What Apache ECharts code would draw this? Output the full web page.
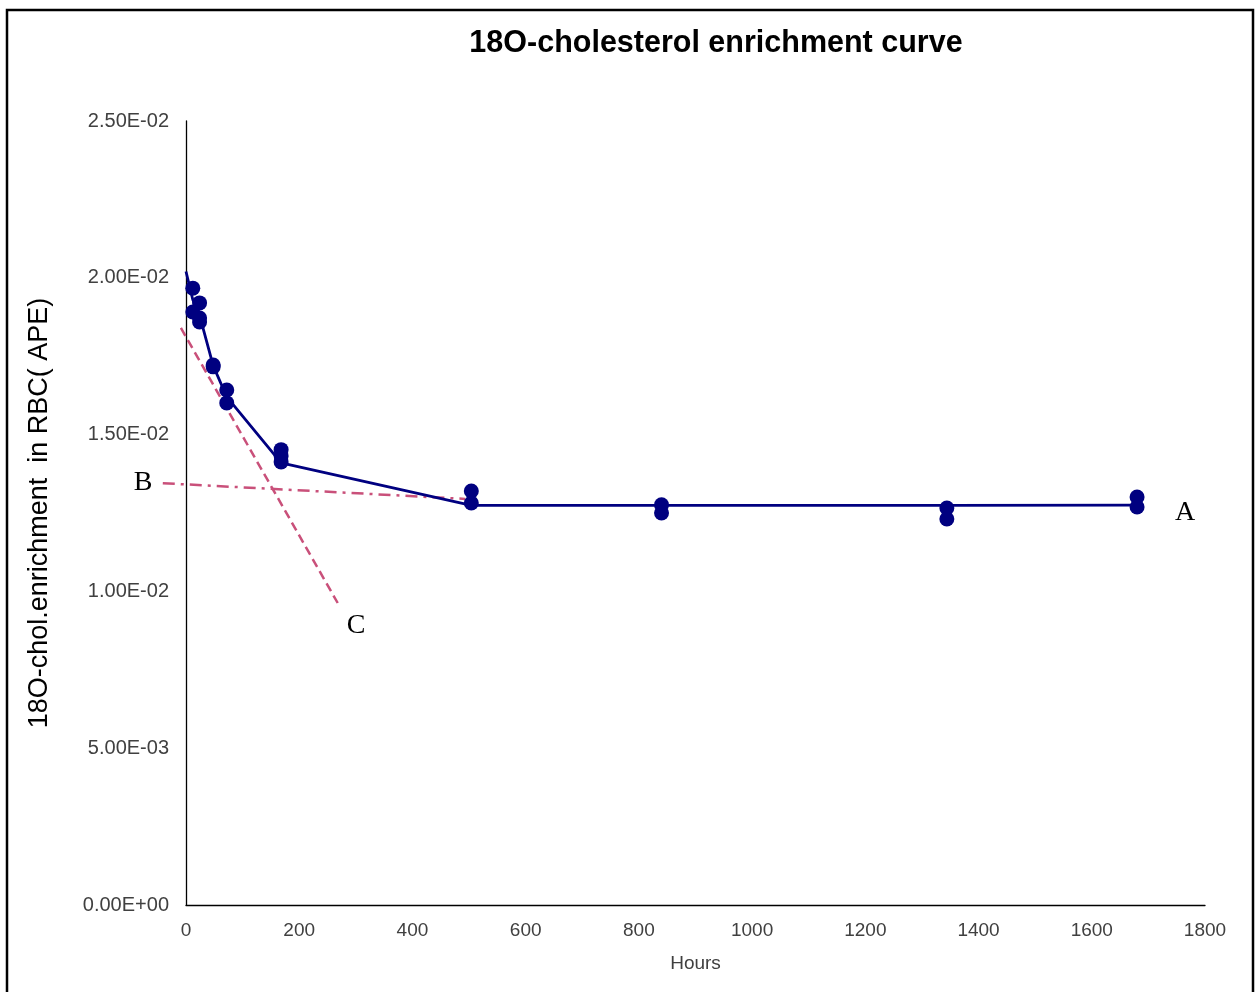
<!DOCTYPE html>
<html>
<head>
<meta charset="utf-8">
<script src="https://cdn.jsdelivr.net/npm/echarts@6/dist/echarts.min.js"></script>
<style>
  html, body { margin: 0; padding: 0; background: #fff; }
  #chart { width: 1259px; height: 992px; }
</style>
</head>
<body>
<div id="chart"></div>
<script>
// measured samples (hours, APE)
const sampleHours = [12, 12, 24, 24, 24, 48, 48, 72, 72, 168, 168, 168, 504, 504, 840, 840, 1344, 1344, 1680, 1680];
const sampleValues = [0.01967, 0.01891, 0.0192, 0.01872, 0.01859, 0.01722, 0.01716, 0.01642, 0.01601,
  0.01452, 0.01432, 0.01413, 0.0132, 0.01282, 0.01276, 0.0125, 0.01266, 0.01231, 0.01301, 0.01269];

// mean curve
const curveHours = [0, 12, 24, 48, 72, 168, 504, 840, 1344, 1680];
const curveValues = [0.0202, 0.0193, 0.0188, 0.0172, 0.0162, 0.0141, 0.01274, 0.01274, 0.01274, 0.01275];

// fitted phase lines
const lineBHours = [-41, 493];
const lineBValues = [0.01345, 0.01295];
const lineCHours = [-9, 268];
const lineCValues = [0.0184, 0.00963];

const xTicks = [0, 200, 400, 600, 800, 1000, 1200, 1400, 1600, 1800];

const pairs = (xs, ys) => xs.map((x, i) => [x, ys[i]]);

function sci(v) {
  if (v === 0) return '0.00E+00';
  let e = Math.floor(Math.log10(Math.abs(v)));
  let m = v / Math.pow(10, e);
  if (Math.round(m * 100) / 100 >= 10) { m = m / 10; e += 1; }
  const sign = e < 0 ? '-' : '+';
  const ee = String(Math.abs(e)).padStart(2, '0');
  return m.toFixed(2) + 'E' + sign + ee;
}

const letterFont = '28px "Liberation Serif"';

let myChart = echarts.init(document.getElementById('chart'));
let option;

option = {
  backgroundColor: '#fff',
  animation: false,
  title: {
    text: '18O-cholesterol enrichment curve',
    left: 711,
    top: 23,
    textAlign: 'center',
    textStyle: {
      fontFamily: 'Liberation Sans',
      fontSize: 30.5,
      fontWeight: 'bold',
      color: '#000',
    },
  },
  grid: {
    left: 186,
    right: 54,
    top: 121,
    bottom: 87,
  },
  xAxis: {
    type: 'value',
    min: 0,
    max: 1800,
    interval: 200,
    name: 'Hours',
    nameLocation: 'middle',
    nameGap: 49,
    nameTextStyle: { fontFamily: 'Liberation Sans', fontSize: 19, color: '#404040' },
    axisLine: { lineStyle: { color: '#000', width: 1.3 } },
    axisTick: { show: false },
    splitLine: { show: false },
    axisLabel: {
      margin: 16,
      fontFamily: 'Liberation Sans',
      fontSize: 19,
      color: '#404040',
      formatter: (v) => (xTicks.includes(v) ? String(v) : ''),
    },
  },
  yAxis: {
    type: 'value',
    min: 0,
    max: 0.025,
    interval: 0.005,
    name: '18O-chol.enrichment  in RBC( APE)',
    nameLocation: 'middle',
    nameGap: 133,
    nameRotate: 90,
    nameTextStyle: { fontFamily: 'Liberation Sans', fontSize: 27, color: '#000' },
    axisLine: { show: true, lineStyle: { color: '#000', width: 1.3 } },
    axisTick: { show: false },
    splitLine: { show: false },
    axisLabel: {
      margin: 17,
      fontFamily: 'Liberation Sans',
      fontSize: 20,
      color: '#404040',
      formatter: sci,
    },
  },
  series: [
    {
      name: 'curve',
      type: 'line',
      data: pairs(curveHours, curveValues),
      showSymbol: false,
      symbol: 'none',
      lineStyle: { color: '#000080', width: 2.8 },
      z: 3,
    },
    {
      name: 'samples',
      type: 'scatter',
      data: pairs(sampleHours, sampleValues),
      symbolSize: 15,
      itemStyle: { color: '#000080', opacity: 1 },
      z: 4,
    },
  ],
};

option && myChart.setOption(option);

// phase lines B and C reach past the y axis, so draw them through the grid's scale
const toPx = (xs, ys) => pairs(xs, ys).map((p) => myChart.convertToPixel({ gridIndex: 0 }, p));

myChart.setOption({
  graphic: [
    {
      id: 'frame',
      type: 'rect',
      shape: { x: 7, y: 10, width: 1246, height: 990 },
      style: { fill: 'none', stroke: '#000', lineWidth: 2.5 },
      silent: true,
    },
    {
      id: 'lineB',
      type: 'polyline',
      shape: { points: toPx(lineBHours, lineBValues) },
      style: { stroke: '#C9507A', lineWidth: 2.5, lineDash: [12, 6, 3, 6], fill: null },
      z: 2,
    },
    {
      id: 'lineC',
      type: 'polyline',
      shape: { points: toPx(lineCHours, lineCValues) },
      style: { stroke: '#C9507A', lineWidth: 2.5, lineDash: [9, 5], fill: null },
      z: 2,
    },
    {
      id: 'labelA',
      type: 'text',
      x: 1185, y: 513,
      style: { text: 'A', font: letterFont, fill: '#000', align: 'center', verticalAlign: 'middle' },
    },
    {
      id: 'labelB',
      type: 'text',
      x: 143, y: 483,
      style: { text: 'B', font: letterFont, fill: '#000', align: 'center', verticalAlign: 'middle' },
    },
    {
      id: 'labelC',
      type: 'text',
      x: 356, y: 626,
      style: { text: 'C', font: letterFont, fill: '#000', align: 'center', verticalAlign: 'middle' },
    },
  ],
});
</script>
</body>
</html>
